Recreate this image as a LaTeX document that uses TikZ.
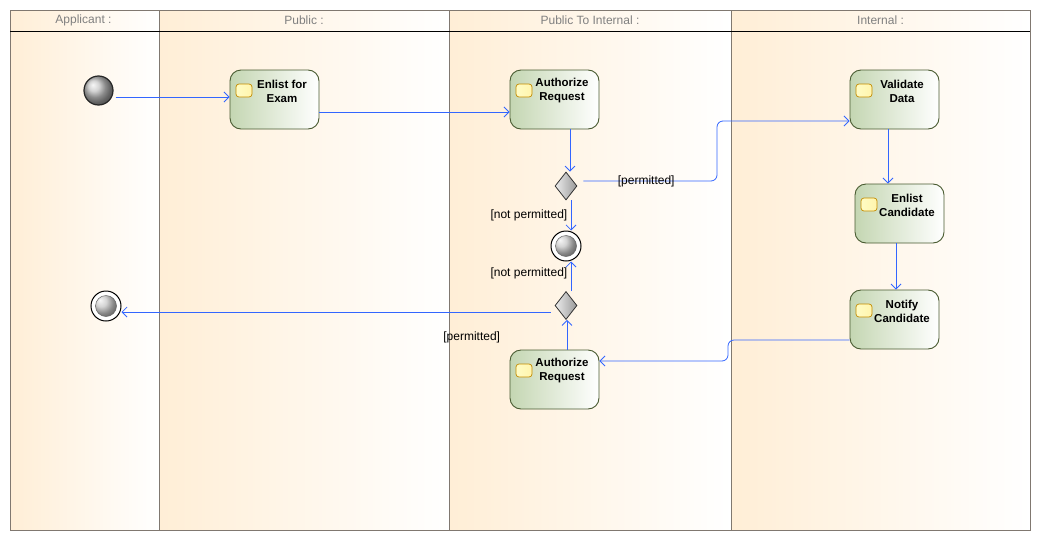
\documentclass[tikz,border=0pt]{standalone}
\usepackage{fontspec}
\setmainfont{Liberation Sans}
\usetikzlibrary{shapes.geometric,arrows.meta}

\definecolor{laneorange}{RGB}{255,238,214}
\definecolor{actgreen}{RGB}{196,214,178}
\definecolor{actborder}{RGB}{72,90,48}
\definecolor{flowblue}{RGB}{51,102,255}
\definecolor{framegray}{RGB}{128,120,112}
\definecolor{icongold}{RGB}{196,140,0}
\definecolor{iconyellow}{RGB}{255,214,80}

\begin{document}
\begin{tikzpicture}[x=1pt,y=-1pt,
        lane/.style={left color=laneorange, right color=white, draw=none},
        lanetitle/.style={font=\fontsize{12}{13}\selectfont, text=gray},
        action/.style={rectangle, rounded corners=11pt, draw=actborder, line width=0.9pt,
                left color=actgreen, right color=white, inner sep=0pt,
                minimum width=89pt, minimum height=59pt,
                path picture={\draw[icongold, line width=0.7pt, rounded corners=3pt,
                        left color=yellow!20, right color=iconyellow]
                    ([xshift=6pt,yshift=-14pt]path picture bounding box.north west)
                    rectangle ++(16,13);}},
        acttext/.style={font=\fontsize{11.5}{14}\selectfont\bfseries, align=center,
                xshift=7.5pt, yshift=8.5pt},
        start/.style={circle, draw=black!85, line width=1.2pt, ball color=gray!45,
                minimum size=29pt, inner sep=0pt},
        final/.style={circle, draw=black, line width=1pt, fill=white,
                minimum size=30pt, inner sep=0pt,
                path picture={\draw[black!60, line width=0.5pt, ball color=gray!45]
                    (path picture bounding box.center) circle (10.5pt);}},
        decision/.style={diamond, draw=black!80, line width=0.8pt,
                left color=gray!15, right color=gray!80,
                minimum width=22pt, minimum height=28pt, inner sep=0pt},
        flow/.style={draw=flowblue, line width=0.8pt,
                -{Straight Barb[length=5pt,width=10pt]}},
        guard/.style={font=\fontsize{12}{13}\selectfont}]

        \useasboundingbox (0,0) rectangle (1041,541);

        % swimlanes
        \path[lane] (10,10) rectangle (159,530);
        \path[lane] (159,10) rectangle (449,530);
        \path[lane] (449,10) rectangle (731,530);
        \path[lane] (731,10) rectangle (1030,530);
        \draw[framegray, line width=0.8pt] (10,10) rectangle (1030,530);
        \draw[framegray, line width=0.8pt] (159,10) -- (159,530);
        \draw[framegray, line width=0.8pt] (449,10) -- (449,530);
        \draw[framegray, line width=0.8pt] (731,10) -- (731,530);
        \draw[black, line width=0.9pt] (10,31) -- (1030,31);

        \node[lanetitle] (applicant) at (83.5,20) {Applicant :};
        \node[lanetitle] (public) at (304,20) {Public :};
        \node[lanetitle] (publictointernal) at (590,20) {Public To Internal :};
        \node[lanetitle] (internal) at (880.5,20) {Internal :};

        % activities
        \node[start] (start) at (98.5,90.5) {};
        \node[action, label={[acttext]center:Enlist for\\Exam}] (enlist) at (274.5,99.5) {};
        \node[action, label={[acttext]center:Authorize\\Request}] (authorize) at (554.5,99.5) {};
        \node[action, label={[acttext]center:Validate\\Data}] (validate) at (894.5,99.5) {};
        \node[action, label={[acttext]center:Enlist\\Candidate}] (enlistcand) at (899.5,213.5) {};
        \node[action, label={[acttext]center:Notify\\Candidate}] (notify) at (894.5,319.5) {};
        \node[action, label={[acttext]center:Authorize\\Request}] (reauthorize) at (554.5,379.5) {};
        \node[decision] (check) at (566,186) {};
        \node[final] (reject) at (566,246) {};
        \node[decision] (recheck) at (566,305.5) {};
        \node[final] (finish) at (106,306) {};

        % flows
        \draw[flow] ([xshift=2pt,yshift=-6.5pt]start.east) -- ([yshift=2.5pt]enlist.west);
        \draw[flow] ([yshift=-12.5pt]enlist.east) -- ([yshift=-12.5pt]authorize.west);
        \draw[flow] ([xshift=15.5pt]authorize.south) -- ([xshift=4pt]check.north);
        \draw[flow, rounded corners=6pt] ([xshift=6pt,yshift=5pt]check.east)
            -- node[guard, pos=0.47] (permitted) {[permitted]} (717,181)
            -- (717,121) -- ([yshift=-21.5pt]validate.west);
        \draw[flow] ([xshift=5pt]check.south) -- ([xshift=5pt]reject.north)
            node[guard, midway, left] (notpermitted) {[not permitted]};
        \draw[flow] ([xshift=5pt]recheck.north) -- ([xshift=5pt]reject.south)
            node[guard, pos=0.6, left] (renotpermitted) {[not permitted]};
        \draw[flow] ([xshift=-4pt,yshift=-6.5pt]recheck.west) -- ([yshift=-6pt]finish.east);
        \draw[flow] ([xshift=12.5pt]reauthorize.north) -- ([xshift=1pt]recheck.south);
        \node[guard, anchor=south east] (repermitted) at ([xshift=-6pt,yshift=3pt]reauthorize.north west) {[permitted]};
        \draw[flow] ([xshift=-6.5pt]validate.south) -- ([xshift=-11.5pt]enlistcand.north);
        \draw[flow] ([xshift=-3.5pt]enlistcand.south) -- ([xshift=1.5pt]notify.north);
        \draw[flow, rounded corners=6pt] ([yshift=-20.5pt]notify.west) -- (728,340)
            -- (728,361) -- ([yshift=18.5pt]reauthorize.east);
\end{tikzpicture}
\end{document}
